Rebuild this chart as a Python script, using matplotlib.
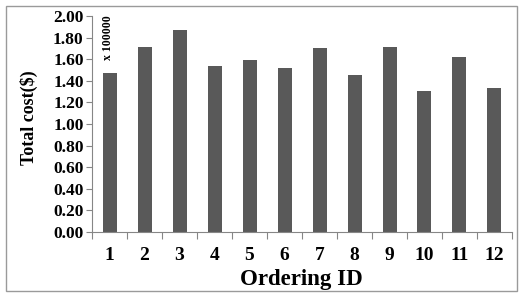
import matplotlib
matplotlib.use("Agg")
import matplotlib.pyplot as plt
from matplotlib.patches import Rectangle

ids = [str(i) for i in range(1, 13)]
cost = [1.47, 1.71, 1.87, 1.54, 1.59, 1.52, 1.70, 1.45, 1.71, 1.31, 1.62, 1.33]

plt.rcParams["font.family"] = ["Liberation Serif", "DejaVu Serif"]
plt.rcParams["font.weight"] = "bold"

fig = plt.figure(figsize=(5.19, 2.93), dpi=100)
ax = fig.add_axes([0.1773, 0.2082, 0.8092, 0.7372])

x = list(range(1, len(ids) + 1))
ax.bar(x, cost, width=0.4, color="#595959")

ax.set_xlim(0.5, len(ids) + 0.5)
ax.set_ylim(0, 2.0)
ax.set_yticks([i * 0.2 for i in range(11)])
ax.set_yticklabels([f"{i * 0.2:.2f}" for i in range(11)])
ax.set_xticks([i + 0.5 for i in range(0, len(ids) + 1)])
ax.set_xticklabels([])
ax.set_xticks(x, minor=True)
ax.set_xticklabels(ids, minor=True)
ax.tick_params(axis="x", which="minor", length=0, pad=11, labelsize=14)
ax.tick_params(axis="x", which="major", length=5, color="#868686")
ax.tick_params(axis="y", length=4, color="#868686", labelsize=12.5, pad=2)

for s in ["top", "right"]:
    ax.spines[s].set_visible(False)
for s in ["left", "bottom"]:
    ax.spines[s].set_color("#868686")

fig.text(0.055, 0.597, "Total cost($)", rotation=90, ha="center", va="center",
         fontsize=13, fontweight="bold")
fig.text(0.581, 0.026, "Ordering ID", ha="center", va="baseline",
         fontsize=16.5, fontweight="bold")

ax.text(0.037, 1.005, "x 100000", transform=ax.transAxes, rotation=90,
        ha="center", va="top", fontsize=8.5, fontweight="bold")

fig.patches.append(Rectangle((0.0116, 0.0068), 0.9846, 0.9727, transform=fig.transFigure,
                             fill=False, edgecolor="#9a9a9a", linewidth=1))

fig.savefig("out.png", dpi=100)
